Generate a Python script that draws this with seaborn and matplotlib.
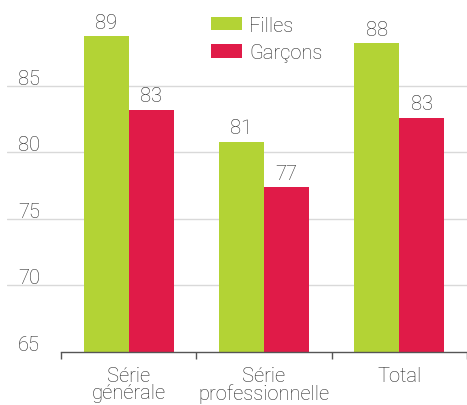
import matplotlib
matplotlib.use("Agg")
import matplotlib.pyplot as plt
import seaborn as sns
import pandas as pd

# données
categories = ["Série\ngénérale", "Série\nprofessionnelle", "Total"]
filles = [88.7, 80.8, 88.2]
garcons = [83.2, 77.4, 82.6]
series = ["Filles", "Garçons"]
yticks = [65, 70, 75, 80, 85]

green = "#B3D335"
red = "#E01B48"
text_color = "#262626"
fs = 14.5

df = pd.DataFrame({
    "cat": categories * 2,
    "serie": [series[0]] * 3 + [series[1]] * 3,
    "val": filles + garcons,
})

sns.set_theme(style="white")
plt.rcParams["font.family"] = ["Roboto", "DejaVu Sans"]
plt.rcParams["font.weight"] = "light"

fig = plt.figure(figsize=(4.67, 4.06), dpi=100)
ax = fig.add_axes([7 / 467, 53 / 406, 460 / 467, 353 / 406])

sns.barplot(data=df, x="cat", y="val", hue="serie", palette=[green, red],
            width=0.667, ax=ax, linewidth=0, saturation=1)

ax.set_xlim(-0.9, 2.5)
ax.set_ylim(65, 91.5)

# grille horizontale
ax.set_yticks([70, 75, 80, 85])
ax.tick_params(axis="y", left=False, labelleft=False)
ax.yaxis.grid(True, color="#d9d9d9", linewidth=1)
ax.set_axisbelow(True)

# étiquettes de l'axe y au-dessus des lignes
for v in yticks:
    ax.annotate(str(v), xy=(0.024, v), xycoords=("axes fraction", "data"),
                xytext=(0, 1.5), textcoords="offset points",
                ha="left", va="baseline", fontsize=fs, color=text_color)

# axe x
for s in ["top", "right", "left"]:
    ax.spines[s].set_visible(False)
ax.spines["bottom"].set_bounds(-0.5, 2.5)
ax.spines["bottom"].set_color("#555555")
ax.spines["bottom"].set_linewidth(1)
ax.set_xticks([-0.5, 0.5, 1.5, 2.5], minor=True)
ax.tick_params(axis="x", which="minor", bottom=True, length=5, width=1,
               color="#555555", direction="out")
ax.tick_params(axis="x", which="major", bottom=False, pad=4,
               labelsize=fs, labelcolor=text_color)
for lab in ax.get_xticklabels():
    lab.set_linespacing(0.88)
ax.set_xlabel("")
ax.set_ylabel("")

# valeurs
for cont in ax.containers:
    ax.bar_label(cont, fmt="%.0f", padding=3, fontsize=fs, color=text_color)

ax.legend(loc="upper left", bbox_to_anchor=(0.443, 0.953), frameon=False,
          borderpad=0, borderaxespad=0, handlelength=1.55, handleheight=0.65,
          handletextpad=0.36, labelspacing=0.42, fontsize=fs,
          labelcolor=text_color)

fig.savefig("out.png", dpi=100)
